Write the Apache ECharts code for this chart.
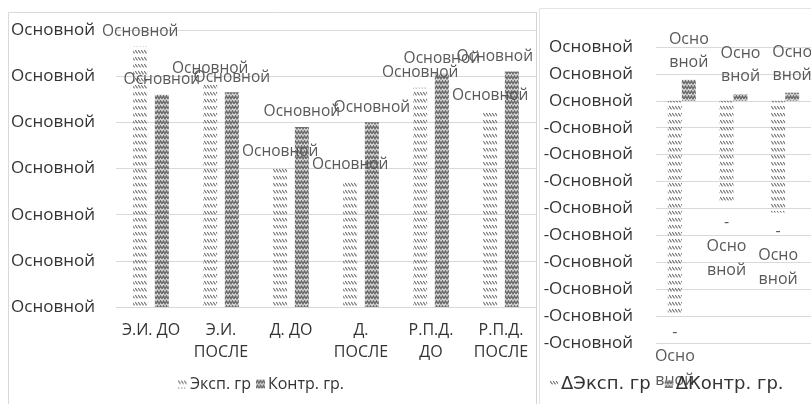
<!DOCTYPE html>
<html>
<head>
<meta charset="utf-8">
<script src="https://cdn.jsdelivr.net/npm/echarts/dist/echarts.min.js"></script>
<style>
  html, body { margin: 0; padding: 0; background: #fff; overflow: hidden; }
  #chart { width: 811px; height: 404px; }
</style>
</head>
<body>
<div id="chart"></div>
<script>
// Scores by stage (left panel) and their changes (right panel)
const categories = ['Э.И. ДО', 'Э.И. ПОСЛЕ', 'Д. ДО', 'Д. ПОСЛЕ', 'Р.П.Д. ДО', 'Р.П.Д. ПОСЛЕ'];
const expValues = [5.65, 4.85, 3.05, 2.75, 4.75, 4.25];
const ctrlValues = [4.6, 4.65, 3.9, 4.0, 5.05, 5.1];
const seriesNames = ['Эксп. гр', 'Контр. гр.'];

const deltaCategories = ['Э.И.', 'Д.', 'Р.П.Д.'];
const deltaExp = [-0.79, -0.38, -0.415];
const deltaCtrl = [0.078, 0.025, 0.03];
const deltaNames = ['ΔЭксп. гр', 'ΔКонтр. гр.'];

// number-format placeholder shown instead of numbers
const numText = 'Основной';

const FONT = '"Open Sans", "Noto Sans", sans-serif';
const DARK = '#333333';
const LABEL = '#595959';
const GRID = '#d9d9d9';

// light "\\\\" hatch
function hatchPattern() {
  const c = document.createElement('canvas');
  c.width = 3; c.height = 7;
  const g = c.getContext('2d');
  g.strokeStyle = '#6e6e6e';
  g.lineWidth = 1.1;
  g.beginPath();
  g.moveTo(0.2, 1.2);
  g.lineTo(2.5, 4.3);
  g.stroke();
  return { image: c, repeat: 'repeat' };
}

// dense zig-zag weave
function weavePattern() {
  const c = document.createElement('canvas');
  c.width = 6; c.height = 5;
  const g = c.getContext('2d');
  g.fillStyle = '#d6d6d6';
  g.fillRect(0, 0, 6, 5);
  g.strokeStyle = '#6a6a6a';
  g.lineWidth = 1.4;
  g.beginPath();
  g.moveTo(0, 3.8); g.lineTo(1.5, 1); g.lineTo(3, 3.8); g.lineTo(4.5, 1); g.lineTo(6, 3.8);
  g.stroke();
  return { image: c, repeat: 'repeat' };
}

const hatch = hatchPattern();
const weave = weavePattern();

const chart = echarts.init(document.getElementById('chart'), null, { renderer: 'canvas' });

// labels of the left panel stay inside its frame
const LEFT_LIMIT = 533;
const keepInside = p => {
  const r = p.labelRect;
  return r.x + r.width > LEFT_LIMIT ? { dx: LEFT_LIMIT - (r.x + r.width) } : {};
};

const leftLabel = {
  show: true,
  position: 'top',
  distance: 7,
  formatter: () => numText,
  color: LABEL,
  fontFamily: FONT,
  fontSize: 15.5
};

const deltaLabel = p => (p.value < 0 ? '-\n' : '') + 'Осно\nвной';

const option = {
  backgroundColor: '#fff',
  animation: false,
  textStyle: { fontFamily: FONT },
  graphic: [
    { type: 'polyline', shape: { points: [[8.5, 430], [8.5, 12.5], [537, 12.5]] },
      style: { stroke: GRID, fill: null, lineWidth: 1 } },
    { type: 'line', shape: { x1: 536.5, y1: 12, x2: 536.5, y2: 430 },
      style: { stroke: '#d4d4d4', lineWidth: 1 } },
    { type: 'polyline', shape: { points: [[539.5, 430], [539.5, 8.5], [820, 8.5]] },
      style: { stroke: '#e3e3e3', fill: null, lineWidth: 1 } }
  ],
  legend: [
    {
      data: seriesNames,
      left: 173, top: 371,
      itemWidth: 9, itemHeight: 9, itemGap: 5,
      icon: 'rect',
      textStyle: { color: DARK, fontSize: 16, fontFamily: FONT, padding: [0, 0, 0, -2] }
    },
    {
      data: deltaNames,
      left: 545, top: 370,
      itemWidth: 8, itemHeight: 8, itemGap: 14,
      icon: 'rect',
      textStyle: { color: DARK, fontSize: 18, fontFamily: '"DejaVu Sans", sans-serif', padding: [0, 0, 0, -2] }
    }
  ],
  grid: [
    { left: 116, top: 30, width: 420, height: 277 },
    { left: 656, top: 47, width: 164, height: 296 }
  ],
  xAxis: [
    {
      type: 'category', gridIndex: 0, data: categories,
      axisLine: { show: true, lineStyle: { color: GRID } },
      axisTick: { show: false },
      axisLabel: {
        color: DARK, fontSize: 16, fontFamily: FONT, lineHeight: 22, margin: 12, interval: 0,
        // long names wrap at the space
        formatter: s => (s.length > 7 ? s.replace(' ', '\n') : s)
      }
    },
    {
      type: 'category', gridIndex: 1, data: deltaCategories,
      axisLine: { show: false },
      axisTick: { show: false },
      axisLabel: { show: false }
    }
  ],
  yAxis: [
    {
      type: 'value', gridIndex: 0, min: 0, max: 6, interval: 1,
      axisLine: { show: false }, axisTick: { show: false },
      splitLine: { lineStyle: { color: GRID } },
      axisLabel: { formatter: () => numText, color: DARK, fontSize: 17, fontFamily: FONT, margin: 21 }
    },
    {
      type: 'value', gridIndex: 1, min: -0.9, max: 0.2, interval: 0.1,
      axisLine: { show: false }, axisTick: { show: false },
      splitLine: { lineStyle: { color: GRID } },
      axisLabel: {
        formatter: v => (v < -1e-9 ? '-' : '') + numText,
        color: DARK, fontSize: 17, fontFamily: FONT, margin: 23
      }
    }
  ],
  series: [
    {
      name: seriesNames[0], type: 'bar', xAxisIndex: 0, yAxisIndex: 0,
      data: expValues, barWidth: 14, barGap: '55%',
      itemStyle: { color: hatch },
      label: leftLabel,
      labelLayout: keepInside
    },
    {
      name: seriesNames[1], type: 'bar', xAxisIndex: 0, yAxisIndex: 0,
      data: ctrlValues, barWidth: 14, barGap: '55%',
      itemStyle: { color: weave },
      label: leftLabel,
      labelLayout: keepInside
    },
    {
      name: deltaNames[0], type: 'bar', xAxisIndex: 1, yAxisIndex: 1,
      data: deltaExp, barWidth: 14, barGap: '0%',
      itemStyle: { color: hatch },
      label: {
        show: true, position: 'bottom', distance: 7, formatter: deltaLabel,
        color: LABEL, fontFamily: FONT, fontSize: 16, lineHeight: 24, align: 'center'
      }
    },
    {
      name: deltaNames[1], type: 'bar', xAxisIndex: 1, yAxisIndex: 1,
      data: deltaCtrl, barWidth: 14, barGap: '0%',
      itemStyle: { color: weave },
      label: {
        show: true, position: 'top', distance: 6, formatter: deltaLabel,
        color: LABEL, fontFamily: FONT, fontSize: 16, lineHeight: 23, align: 'center'
      }
    }
  ]
};

chart.setOption(option);
</script>
</body>
</html>
